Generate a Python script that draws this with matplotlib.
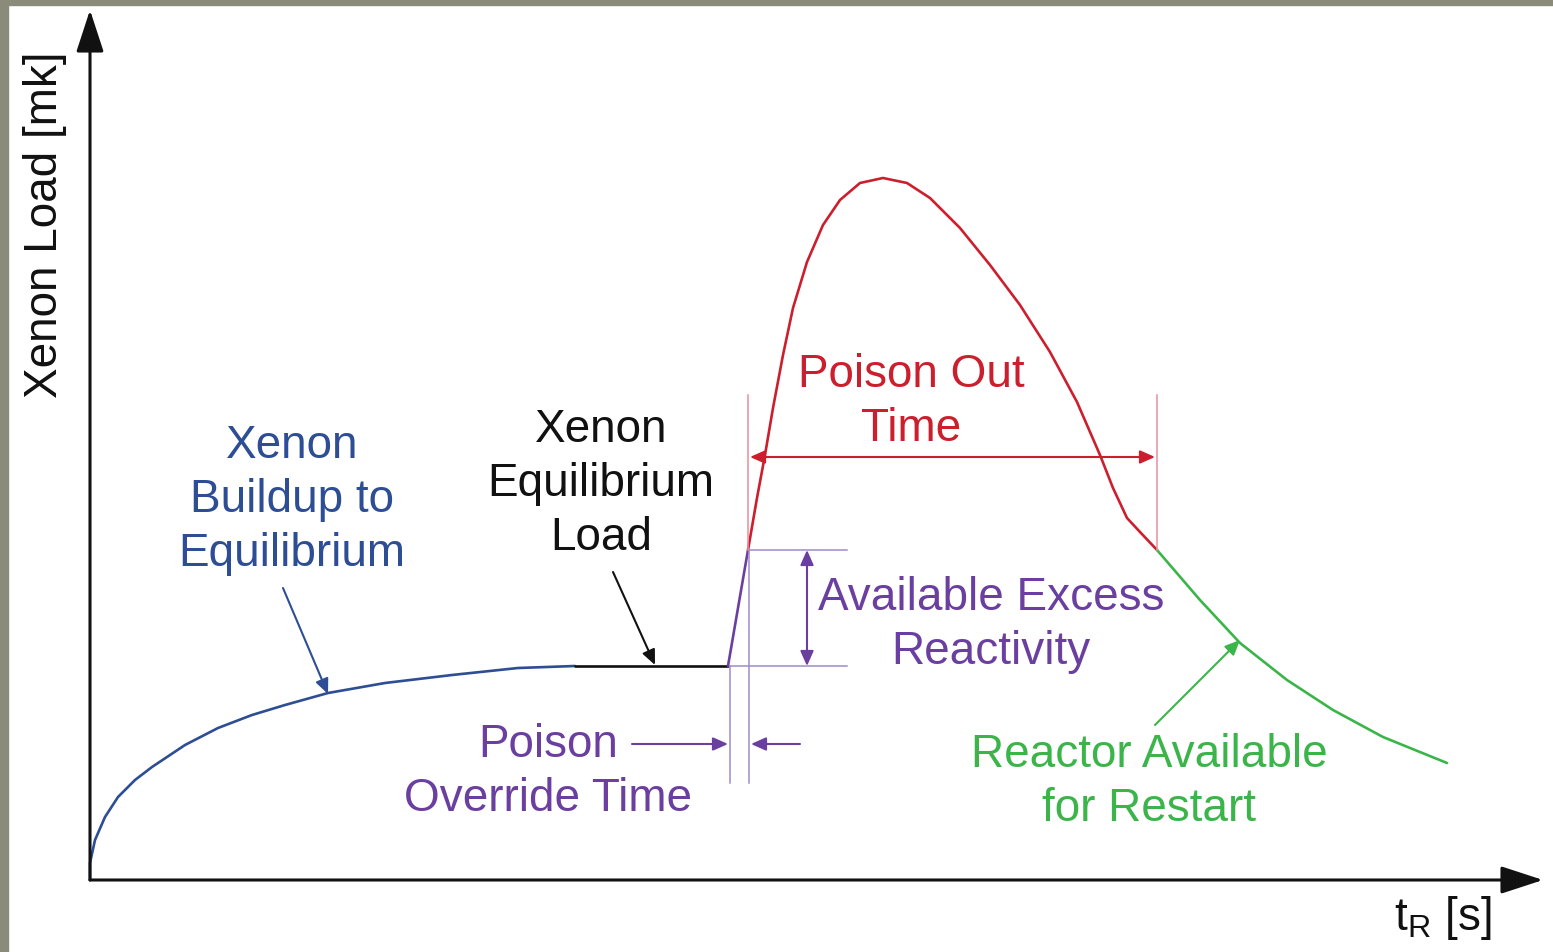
"""
Xenon load after reactor trip: buildup, equilibrium, poison override and poison out.
Units are arbitrary (schematic chart), read off the reference picture.
"""
import matplotlib.pyplot as plt
from matplotlib.patches import Rectangle

# Xenon buildup to equilibrium (blue)
buildup_t = [0, 0, 0.5, 1.5, 2.8, 4.5, 6.2, 9.5, 12.8, 16.2, 19.5, 23.8, 29.5, 36.2, 42.8, 48.5]
buildup_x = [0, 1.7, 4.0, 6.3, 8.3, 10.0, 11.3, 13.5, 15.2, 16.5, 17.5, 18.7, 19.7, 20.5, 21.2, 21.4]

# equilibrium load (black)
equil_t = [48.5, 63.8]
equil_x = [21.4, 21.4]

# poison override ramp (purple)
override_t = [63.8, 65.8]
override_x = [21.4, 33.0]

# xenon transient, reactor can't restart (red)
poison_t = [65.8, 66.7, 67.5, 68.3, 69.3, 70.3, 71.7, 73.3, 75.0, 77.0, 79.3, 81.7,
            84.0, 87.0, 90.0, 93.0, 96.0, 98.7, 101.0, 102.3, 103.7, 105.0, 106.7]
poison_x = [33.0, 38.2, 42.5, 47.2, 52.5, 57.2, 61.8, 65.5, 68.0, 69.7, 70.2, 69.7,
            68.2, 65.2, 61.5, 57.5, 52.8, 47.8, 42.5, 39.2, 36.2, 34.8, 33.0]

# decay after poison out (green)
restart_t = [106.7, 111.0, 115.0, 119.7, 124.3, 129.3, 135.7]
restart_x = [33.0, 28.0, 23.7, 20.0, 17.0, 14.3, 11.7]

BLUE = '#2d4d94'
RED = '#cc1f2e'
PURPLE = '#6b3fa0'
GREEN = '#3bb54a'
BLACK = '#111111'
LIGHT_PURPLE = '#a08ccb'
LIGHT_RED = '#e8909b'

plt.rcParams['font.family'] = ['Liberation Sans', 'DejaVu Sans']
FS = 33

fig = plt.figure(figsize=(15.53, 9.52), dpi=100)
ax = fig.add_axes([0, 0, 1, 1])
ax.set_xlim(-9, 146.3)
ax.set_ylim(-7.2, 88)
ax.axis('off')

# grey frame at top and left
fig.patches.append(Rectangle((0, 0), 8 / 1553, 1, transform=fig.transFigure,
                             color='#8b8b7a', zorder=0))
fig.patches.append(Rectangle((0, 1 - 5 / 952), 1, 5 / 952, transform=fig.transFigure,
                             color='#8b8b7a', zorder=0))


def arrow(start, end, color, lw=1.5, hw=0.4, hl=0.9):
    ax.annotate('', xy=end, xytext=start,
                arrowprops=dict(arrowstyle=f'-|>,head_width={hw},head_length={hl}',
                                color=color, lw=lw, shrinkA=0, shrinkB=0))


# axes
arrow((0, 0), (0, 87.0), BLACK, lw=2.2, hw=0.85, hl=2.6)
arrow((0, 0), (145.3, 0), BLACK, lw=2.2, hw=0.85, hl=2.6)

# curves
line_kw = dict(lw=1.9, solid_joinstyle='round', solid_capstyle='round')
ax.plot(buildup_t, buildup_x, color=BLUE, **line_kw)
ax.plot(equil_t, equil_x, color=BLACK, **line_kw)
ax.plot(override_t, override_x, color=PURPLE, **line_kw)
ax.plot(poison_t, poison_x, color=RED, **line_kw)
ax.plot(restart_t, restart_x, color=GREEN, **line_kw)

# guide lines
ax.plot([64.0, 64.0], [21.4, 9.7], color=LIGHT_PURPLE, lw=1.1)
ax.plot([65.9, 65.9], [33.0, 9.7], color=LIGHT_PURPLE, lw=1.1)
ax.plot([65.9, 75.7], [33.0, 33.0], color=LIGHT_PURPLE, lw=1.1)
ax.plot([64.0, 75.7], [21.4, 21.4], color=LIGHT_PURPLE, lw=1.1)
ax.plot([65.8, 65.8], [33.0, 48.5], color=LIGHT_RED, lw=1.1)
ax.plot([106.7, 106.7], [33.0, 48.5], color=LIGHT_RED, lw=1.1)

# dimension arrows
arrow((71.7, 27.2), (71.7, 33.0), PURPLE)
arrow((71.7, 27.2), (71.7, 21.4), PURPLE)
arrow((86.0, 42.3), (66.0, 42.3), RED)
arrow((86.0, 42.3), (106.5, 42.3), RED)
arrow((54.2, 13.6), (63.8, 13.6), PURPLE)
arrow((71.0, 13.6), (66.1, 13.6), PURPLE)

# label pointers
arrow((19.3, 29.2), (23.8, 18.6), BLUE)
arrow((52.3, 30.8), (56.5, 21.5), BLACK)
arrow((106.5, 15.5), (115.0, 24.0), GREEN)

# labels
kw = dict(ha='center', va='center', fontsize=FS, linespacing=1.3, multialignment='center')
ax.text(20.2, 38.0, 'Xenon\nBuildup to\nEquilibrium', color=BLUE, **kw)
ax.text(51.1, 39.6, 'Xenon\nEquilibrium\nLoad', color=BLACK, **kw)
ax.text(82.1, 47.8, 'Poison Out\nTime', color=RED, **kw)
ax.text(90.1, 25.5, 'Available Excess\nReactivity', color=PURPLE, **kw)
ax.text(45.8, 10.8, 'Poison\nOverride Time', color=PURPLE, **kw)
ax.text(105.9, 9.8, 'Reactor Available\nfor Restart', color=GREEN, **kw)

ax.text(-4.5, 65.5, 'Xenon Load [mk]', rotation=90, ha='center', va='center',
        fontsize=FS, color=BLACK)
ax.text(135.3, -3.8, r'$\mathregular{t_R}$ [s]', ha='center', va='center',
        fontsize=FS, color=BLACK)

fig.savefig('out.png', dpi=100)
